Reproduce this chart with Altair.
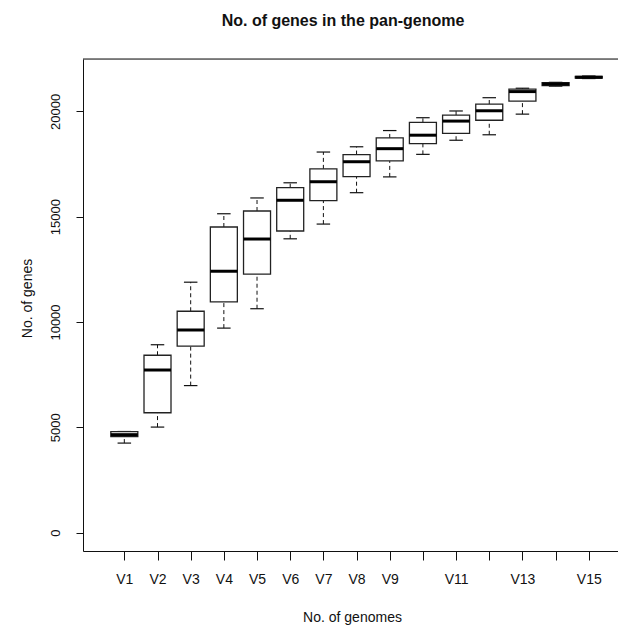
import altair as alt
import pandas as pd

labels = [f"V{i}" for i in range(1, 16)]
positions = list(range(1, 16))
lower_whisker = [4250, 5010, 6980, 9710, 10630, 13950, 14650, 16140, 16890, 17960, 18630, 18890, 19870, 21200, 21560]
q1 = [4560, 5690, 8850, 10960, 12270, 14320, 15760, 16900, 17650, 18470, 18960, 19580, 20490, 21220, 21580]
median = [4650, 7720, 9620, 12410, 13940, 15780, 16660, 17610, 18230, 18870, 19540, 20030, 20940, 21300, 21620]
q3 = [4790, 8420, 10510, 14510, 15270, 16380, 17270, 17950, 18740, 19480, 19820, 20350, 21060, 21360, 21660]
upper_whisker = [4800, 8920, 11890, 15140, 15890, 16610, 18070, 18320, 19090, 19700, 20020, 20650, 21100, 21380, 21680]
y_ticks = [0, 5000, 10000, 15000, 20000]
title_text = "No. of genes in the pan-genome"

df = pd.DataFrame({
    "label": labels, "pos": positions, "lo": lower_whisker, "q1": q1,
    "med": median, "q3": q3, "hi": upper_whisker,
})

W, H = 535, 492
FONT = "Liberation Sans"
INK = "#111111"

xs = alt.Scale(domain=[-0.095, 15.73], nice=False, zero=False)
ys = alt.Scale(domain=[-874, 22488], nice=False, zero=False)

x_axis = alt.Axis(
    values=positions, grid=False, title="No. of genomes", labelOverlap=False,
    labelExpr="(datum.value == 10 || datum.value == 12 || datum.value == 14) ? '' : 'V' + datum.value",
    tickSize=9, labelPadding=12, labelFontSize=14, labelFont=FONT, labelColor=INK,
    domainColor=INK, tickColor=INK, labelBaseline="top",
    titleFont=FONT, titleFontSize=14, titleFontWeight="normal", titleColor=INK,
    titleX=269, titleY=70, titleBaseline="alphabetic", titleAlign="center",
)
y_axis = alt.Axis(
    values=y_ticks, grid=False, title="No. of genes", format="d", labelOverlap=False,
    tickSize=7, labelPadding=17, labelAngle=-90, labelAlign="center",
    labelBaseline="alphabetic", labelFontSize=13, labelFont=FONT, labelColor=INK,
    domainColor=INK, tickColor=INK,
    titleFont=FONT, titleFontSize=14, titleFontWeight="normal", titleColor=INK,
    titleAngle=-90, titleX=-52, titleY=239, titleBaseline="alphabetic", titleAlign="center",
)

X = alt.X("pos:Q", scale=xs, axis=x_axis)
def Y(field):
    return alt.Y(field, scale=ys, axis=y_axis)

base = alt.Chart(df)

lower = base.mark_rule(color=INK, strokeWidth=1, strokeDash=[4, 3]).encode(
    x=X, y=Y("lo:Q"), y2="q1:Q")
upper = base.mark_rule(color=INK, strokeWidth=1, strokeDash=[4, 3]).encode(
    x=X, y=Y("q3:Q"), y2="hi:Q")
cap_lo = base.mark_tick(orient="horizontal", size=13.5, thickness=1.2, color=INK, opacity=1).encode(
    x=X, y=Y("lo:Q"))
cap_hi = base.mark_tick(orient="horizontal", size=13.5, thickness=1.2, color=INK, opacity=1).encode(
    x=X, y=Y("hi:Q"))
box = base.mark_bar(size=27, fill="white", stroke="#222222", strokeWidth=1.3, opacity=1).encode(
    x=X, y=Y("q1:Q"), y2="q3:Q")
med = base.mark_tick(orient="horizontal", size=27, thickness=3, color="#000000", opacity=1).encode(
    x=X, y=Y("med:Q"))
top_border = alt.Chart(pd.DataFrame({"a": [0]})).mark_rule(color=INK, strokeWidth=1).encode(
    x=alt.value(0), x2=alt.value(W), y=alt.value(0))
title = alt.Chart(pd.DataFrame({"t": [title_text]})).mark_text(
    font=FONT, fontSize=16, fontWeight="bold", color=INK, align="center", baseline="alphabetic"
).encode(text="t:N", x=alt.value(260), y=alt.value(-33))

chart = alt.layer(lower, upper, cap_lo, cap_hi, box, med, top_border, title).properties(
    width=W, height=H,
    autosize=alt.AutoSizeParams(type="none"),
    padding={"left": 75, "top": 51, "right": 0, "bottom": 74},
).configure_view(stroke=None).configure_axis(labelOverlap=False).configure(background="white")

chart.save("out.html", embed_options={"renderer": "svg", "actions": False})
